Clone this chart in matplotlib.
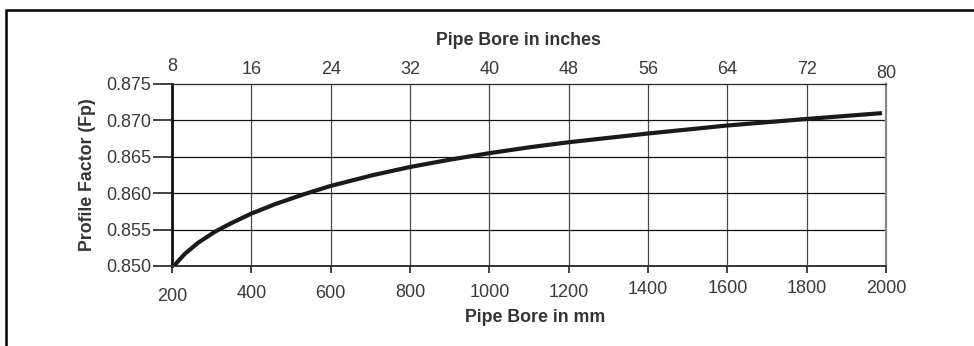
import matplotlib
matplotlib.use("Agg")
import matplotlib.pyplot as plt
from matplotlib.patches import Rectangle
from matplotlib.transforms import ScaledTranslation

# Profile factor vs pipe bore (mm)
bore_mm = [205, 216, 233, 266, 308, 350, 400, 460, 535, 600, 708, 800, 900,
           1000, 1100, 1200, 1400, 1600, 1800, 1990]
profile_factor = [0.8500, 0.8507, 0.8517, 0.8532, 0.8547, 0.8559, 0.8572, 0.8585,
                  0.8599, 0.8610, 0.8625, 0.8636, 0.8646, 0.8655, 0.8663, 0.8670,
                  0.8682, 0.8693, 0.8702, 0.8710]

mm_ticks = [200, 400, 600, 800, 1000, 1200, 1400, 1600, 1800, 2000]
inch_ticks = [8, 16, 24, 32, 40, 48, 56, 64, 72, 80]
fp_ticks = [0.850, 0.855, 0.860, 0.865, 0.870, 0.875]
MM_PER_INCH = 25

# small vertical nudges (pixels, up is positive) of the hand-set tick labels
mm_label_nudge = [-4, -1, -1, 0, 0, 0, 3, 4, 4, 4]
inch_label_nudge = [3, 0, 0, 0, 0, 0, 0, 0, 0, -4]

W, H = 974, 346
fig = plt.figure(figsize=(W / 100, H / 100), dpi=100)
plt.rcParams['font.family'] = ['Liberation Sans', 'DejaVu Sans']

# outer frame
fig.patches.append(Rectangle((6 / W, -0.1), 1.1, (H - 10) / H + 0.1,
                             transform=fig.transFigure, fill=False,
                             edgecolor='black', linewidth=1.8))

ax = fig.add_axes([172 / W, (H - 266) / H, 714 / W, 182 / H])
ax.set_xlim(200, 2000)
ax.set_ylim(0.850, 0.875)

tick_color = '#3a3a3a'
label_color = '#333333'
ax.set_xticks(mm_ticks)
ax.set_yticks(fp_ticks)
ax.set_yticklabels([f"{v:.3f}" for v in fp_ticks])
ax.tick_params(axis='x', direction='out', length=5, width=1.2, pad=8,
               labelsize=13, labelcolor=tick_color, color='#222222')
ax.tick_params(axis='y', direction='out', length=13.5, width=1.2, pad=1.5,
               labelsize=13, labelcolor=tick_color, color='#222222')

# grid
for x in mm_ticks[1:-1]:
    ax.axvline(x, color='#4a4a4a', linewidth=0.9, zorder=1)
for y in fp_ticks[1:-1]:
    ax.axhline(y, color='#111111', linewidth=0.9, zorder=1)

for sp in ax.spines.values():
    sp.set_zorder(2)
ax.spines['left'].set_linewidth(2.0)
ax.spines['left'].set_color('#111111')
ax.spines['bottom'].set_linewidth(1.4)
ax.spines['bottom'].set_color('#333333')
ax.spines['top'].set_linewidth(1.0)
ax.spines['top'].set_color('#333333')
ax.spines['right'].set_linewidth(1.6)
ax.spines['right'].set_color('#888888')

ax.plot(bore_mm, profile_factor, color='#1a1a1a', linewidth=3.0,
        solid_capstyle='butt', solid_joinstyle='round', zorder=3)

ax.set_xlabel('Pipe Bore in mm', fontsize=12.8, fontweight='bold',
              color=label_color, labelpad=2.5, x=(535 - 172) / 714)
ax.set_ylabel('Profile Factor (Fp)', fontsize=12.8, fontweight='bold',
              color=label_color, labelpad=7)

# top axis in inches
top = ax.twiny()
top.set_xlim(200 / MM_PER_INCH, 2000 / MM_PER_INCH)
top.set_xticks(inch_ticks)
top.tick_params(axis='x', length=0, pad=4, labelsize=13, labelcolor=tick_color)
for sp in top.spines.values():
    sp.set_visible(False)
top.set_xlabel('Pipe Bore in inches', fontsize=12.8, fontweight='bold',
               color=label_color, labelpad=10, x=(518 - 172) / 714)

for lbl, dy in zip(ax.get_xticklabels(), mm_label_nudge):
    lbl.set_transform(lbl.get_transform() + ScaledTranslation(0, dy / 100, fig.dpi_scale_trans))
for lbl, dy in zip(top.get_xticklabels(), inch_label_nudge):
    lbl.set_transform(lbl.get_transform() + ScaledTranslation(0, dy / 100, fig.dpi_scale_trans))

fig.savefig('out.png', dpi=100)
